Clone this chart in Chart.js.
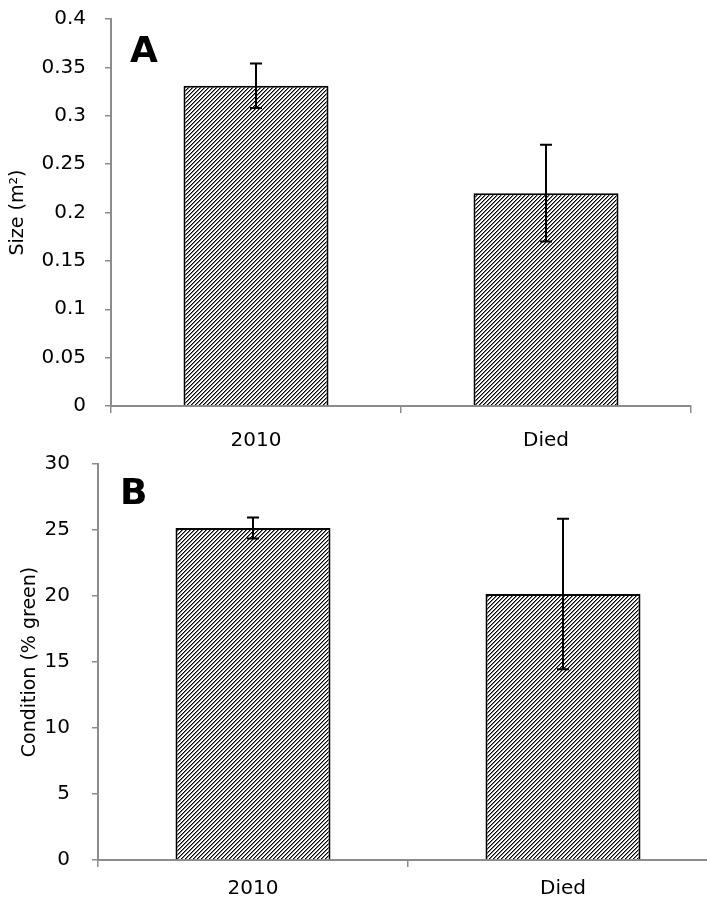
<!DOCTYPE html>
<html>
<head>
<meta charset="utf-8">
<script src="https://cdn.jsdelivr.net/npm/chart.js@4"></script>
<style>
  body { margin: 0; background: #fff; overflow: hidden; width: 707px; height: 904px; position: relative; }
  canvas { position: absolute; left: 0; }
  #sizeChart { top: 0; }
  #condChart { top: 452px; }
</style>
</head>
<body>
<canvas id="sizeChart" width="707" height="452"></canvas>
<canvas id="condChart" width="730" height="452"></canvas>
<script>
// data
const categories = ["2010", "Died"];
const sizeValues = [0.331, 0.22];
const sizeErrors = [0.023, 0.05];
const sizeTicks = [0, 0.05, 0.1, 0.15, 0.2, 0.25, 0.3, 0.35, 0.4];
const condValues = [25.15, 20.15];
const condErrors = [0.8, 5.7];
const condTicks = [0, 5, 10, 15, 20, 25, 30];

const FONT = "'DejaVu Sans', Verdana, sans-serif";
const AXIS_GREY = "#8c8c8c";

// dense "/" hatch like the original fill
function makeHatch() {
    let c = document.createElement("canvas");
    c.width = 4;
    c.height = 4;
    let g = c.getContext("2d");
    g.fillStyle = "#fff";
    g.fillRect(0, 0, 4, 4);
    g.fillStyle = "#7a7a7a";
    for (let i = 0; i < 4; i++) {
        g.fillRect((4 - i) % 4, i, 1, 1);
    }
    g.fillStyle = "#000";
    for (let i = 0; i < 4; i++) {
        g.fillRect(3 - i, i, 1, 1);
    }
    return g.createPattern(c, "repeat");
}

const errorBars = {
    id: "errorBars",
    afterDatasetsDraw(chart, args, opts) {
        let ctx = chart.ctx;
        let y = chart.scales.y;
        let meta = chart.getDatasetMeta(0);
        ctx.save();
        ctx.strokeStyle = "#000";
        ctx.lineWidth = 2;
        meta.data.forEach(function (bar, i) {
            let v = chart.data.datasets[0].data[i];
            let e = opts.errors[i];
            let top = y.getPixelForValue(v + e);
            let bot = y.getPixelForValue(v - e);
            ctx.beginPath();
            ctx.moveTo(bar.x, top);
            ctx.lineTo(bar.x, bot);
            ctx.moveTo(bar.x - 6, top);
            ctx.lineTo(bar.x + 6, top);
            ctx.moveTo(bar.x - 6, bot);
            ctx.lineTo(bar.x + 6, bot);
            ctx.stroke();
        });
        ctx.restore();
    }
};

const panelLetter = {
    id: "panelLetter",
    afterDraw(chart, args, opts) {
        let ctx = chart.ctx;
        ctx.save();
        ctx.font = "bold 36px " + FONT;
        ctx.fillStyle = "#000";
        ctx.textBaseline = "alphabetic";
        ctx.fillText(opts.text, chart.chartArea.left + opts.dx, chart.chartArea.top + opts.dy);
        ctx.restore();
    }
};

function buildChart(id, values, errors, ticks, title, opts) {
    let ctx = document.getElementById(id).getContext("2d");
    return new Chart(ctx, {
        type: "bar",
        data: {
            labels: categories,
            datasets: [{
                data: values,
                backgroundColor: makeHatch(),
                borderColor: "#000",
                borderWidth: 2,
                borderSkipped: "start",
                categoryPercentage: 1.0,
                barPercentage: 0.5
            }]
        },
        options: {
            responsive: false,
            animation: false,
            devicePixelRatio: 1,
            layout: { padding: { top: opts.padTop, right: opts.padRight, left: 0, bottom: 0 } },
            plugins: {
                legend: { display: false },
                tooltip: { enabled: false },
                errorBars: { errors: errors },
                panelLetter: { text: opts.letter, dx: opts.letterDx, dy: opts.letterDy }
            },
            scales: {
                x: {
                    grid: { drawOnChartArea: false, tickLength: 7, color: AXIS_GREY, lineWidth: 1.5, offset: true },
                    border: { color: AXIS_GREY, width: 2 },
                    ticks: { color: "#000", font: { family: FONT, size: 20 }, padding: opts.xPad },
                    afterFit: function (s) { s.height = opts.xHeight; s.paddingLeft = 0; s.paddingRight = 0; }
                },
                y: {
                    min: ticks[0],
                    max: ticks[ticks.length - 1],
                    afterBuildTicks: function (s) { s.ticks = ticks.map(v => ({ value: v })); },
                    grid: { drawOnChartArea: false, tickLength: 6, color: AXIS_GREY, lineWidth: 1.5 },
                    border: { color: AXIS_GREY, width: 2 },
                    ticks: {
                        color: "#000",
                        font: { family: FONT, size: 20 },
                        padding: opts.yPad,
                        callback: v => String(+v.toFixed(2))
                    },
                    title: {
                        display: true,
                        text: title,
                        color: "#000",
                        font: { family: FONT, size: 19 },
                        padding: { top: opts.titlePad, bottom: 0 }
                    },
                    afterFit: function (s) { s.width = opts.yWidth; s.paddingTop = 0; s.paddingBottom = 0; }
                }
            }
        },
        plugins: [errorBars, panelLetter]
    });
}

buildChart("sizeChart", sizeValues, sizeErrors, sizeTicks, "Size (m²)", {
    padTop: 19, padRight: 16, xHeight: 46, yWidth: 111, xPad: 16, yPad: 19, titlePad: 7,
    letter: "A", letterDx: 19, letterDy: 43
});
buildChart("condChart", condValues, condErrors, condTicks, "Condition (% green)", {
    padTop: 12, padRight: 12, xHeight: 44, yWidth: 98, xPad: 10, yPad: 22, titlePad: 19,
    letter: "B", letterDx: 22, letterDy: 40
});
</script>
</body>
</html>
